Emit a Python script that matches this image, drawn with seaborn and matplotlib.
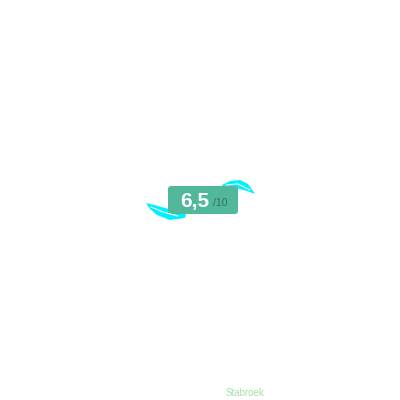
import matplotlib
matplotlib.use("Agg")
import matplotlib.pyplot as plt
import seaborn as sns
from matplotlib.patches import FancyBboxPatch, Polygon

# rating data
score = [6.5]
scale_max = [10]
source = ["Stabroek"]

sns.set_theme(style="white")
plt.rcParams['font.family'] = ['Liberation Sans', 'DejaVu Sans']

fig = plt.figure(figsize=(4, 4), dpi=100)
ax = fig.add_axes([0, 0, 1, 1])
ax.set_xlim(0, 400)
ax.set_ylim(400, 0)
ax.axis("off")

# cyan ribbons
left_rib = [(146, 203), (158, 206), (172, 210), (186, 214), (185, 218),
            (170, 220), (157, 215), (150, 209)]
right_rib = [(222, 185), (230, 181), (240, 180), (248, 184), (255, 194),
             (247, 191), (236, 188), (224, 190)]
for pts in (left_rib, right_rib):
    ax.add_patch(Polygon(pts, closed=True, facecolor="#00f0ff", edgecolor="none"))
ax.plot([151, 163, 178], [207, 212, 216], color="white", lw=0.8)
ax.plot([226, 238, 250], [185, 184, 190], color="white", lw=0.8)

# badge
ax.add_patch(FancyBboxPatch((168, 186), 70, 28,
                            boxstyle="round,pad=0,rounding_size=3",
                            facecolor="#52b89c", edgecolor="none"))
ax.text(195, 201.5, f"{score[0]:g}".replace(".", ","), color="white",
        fontsize=15, fontweight="bold", ha="center", va="center")
ax.text(213, 203, f"/{scale_max[0]}", color="#2f6f5e", fontsize=7.5,
        ha="left", va="center")

ax.text(245, 393, source[0], color="#a8e0a8", fontsize=7,
        ha="center", va="center")

fig.savefig("out.png", dpi=100, facecolor="white")
